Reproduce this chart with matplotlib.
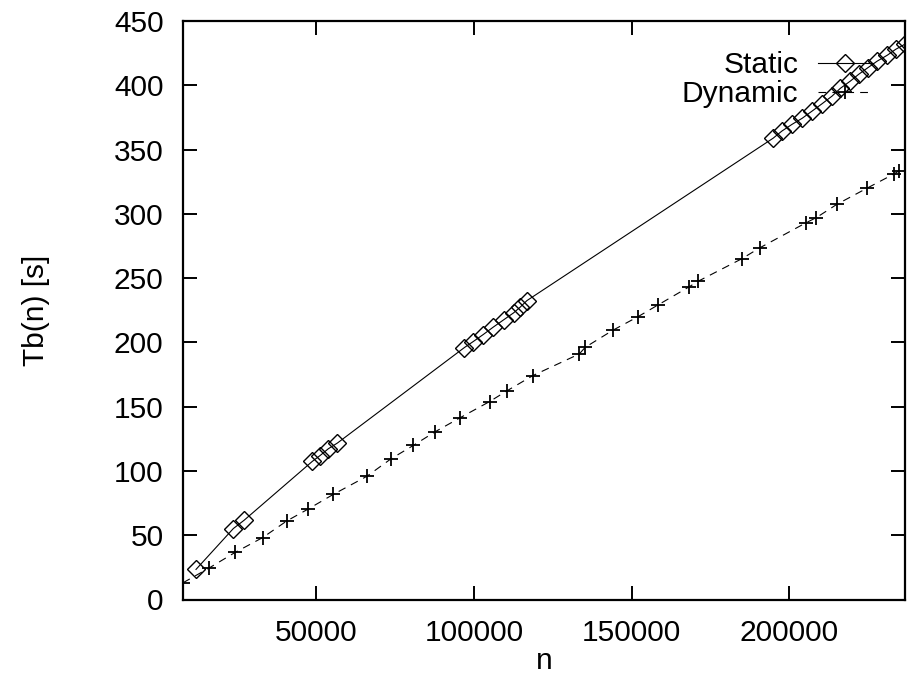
import matplotlib
matplotlib.use("Agg")
import matplotlib.pyplot as plt

# timing runs: problem size n vs. Tb(n) in seconds
n_static = [11950, 23780, 27170, 48830, 51270, 53900, 56750,
            97000, 99700, 102900, 106200, 109400, 112600, 114700, 116800,
            194800, 197600, 200800, 204000, 207200, 210300, 213500, 216100,
            219300, 221900, 224800, 227800, 231000, 233600, 236600]
tb_static = [23.4, 55.2, 61.6, 107.5, 112.0, 117.3, 121.7,
             196.0, 200.5, 206.0, 212.0, 217.5, 223.0, 227.5, 232.5,
             358.8, 364.4, 369.6, 374.3, 380.0, 385.6, 391.6, 397.6,
             403.3, 408.5, 413.6, 418.8, 423.4, 427.9, 432.0]

n_dynamic = [7830, 16170, 24320, 33100, 40710, 47370, 55480, 66070, 73780,
             80850, 87730, 95650, 105000, 110460, 118710, 133400, 135290,
             144070, 152000, 158400, 168250, 171000, 184850, 190550, 205360,
             208530, 215090, 224600, 233100, 234600]
tb_dynamic = [13.0, 24.6, 36.6, 48.2, 61.1, 70.2, 81.8, 95.8, 109.5,
              119.9, 130.5, 141.4, 154.0, 162.3, 174.2, 191.0, 196.2,
              209.5, 220.0, 229.2, 243.3, 247.5, 265.0, 273.5, 293.2,
              297.1, 307.5, 320.0, 331.0, 333.3]

x_ticks = [50000, 100000, 150000, 200000]
y_ticks = list(range(0, 451, 50))

plt.rcParams["font.family"] = ["Liberation Sans", "DejaVu Sans"]
plt.rcParams["font.size"] = 21.5

fig = plt.figure(figsize=(9.11, 6.79), dpi=100)
ax = fig.add_axes([183 / 911, 1 - 599.5 / 679, (905 - 183) / 911, (599.5 - 21) / 679])

ax.plot(n_static, tb_static, color="black", lw=0.8, marker="D", ms=9,
        mfc="none", mec="black", mew=1.0, label="Static")
ax.plot(n_dynamic, tb_dynamic, color="black", lw=0.8, dashes=(7, 5.5),
        marker="+", ms=9.5, mew=1.3, label="Dynamic")

# x range fixed to the data extent, y from 0 to 450
ax.set_xlim(min(n_static + n_dynamic), max(n_static + n_dynamic))
ax.set_ylim(0, 450)
ax.set_xticks(x_ticks)
ax.set_yticks(y_ticks)
ax.tick_params(direction="in", length=10, width=1.4, top=True, right=True)
ax.tick_params(axis="y", pad=14)
ax.tick_params(axis="x", pad=14)
for side in ax.spines.values():
    side.set_linewidth(1.6)

ax.set_xlabel("n", labelpad=0)
ax.set_ylabel("Tb(n) [s]", labelpad=46)

ax.legend(loc="upper right", bbox_to_anchor=(873 / 911, 1 - 51 / 679),
          bbox_transform=fig.transFigure, frameon=False, markerfirst=False,
          numpoints=1, handlelength=1.85, handletextpad=0.65, labelspacing=0.05,
          borderpad=0, borderaxespad=0)

fig.savefig("out.png", dpi=100)
